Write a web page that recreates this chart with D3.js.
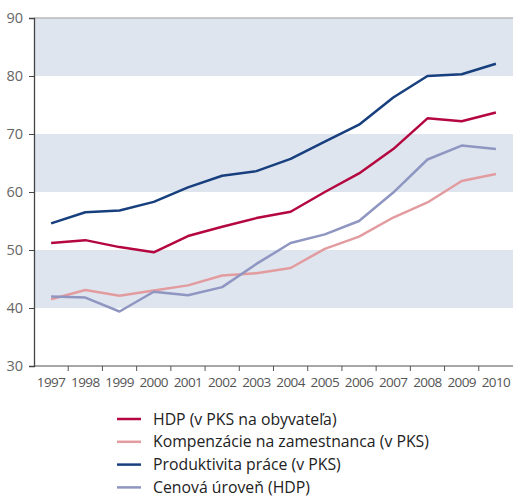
<!DOCTYPE html>
<html>
<head>
<meta charset="utf-8">
<script src="https://cdn.jsdelivr.net/npm/d3@7"></script>
<style>
    body { margin: 0; background: #fff; }
    svg { display: block; }
</style>
</head>
<body>
<svg id="chart" width="513" height="498"></svg>
<script>

// values (index, EU = 100)
const years = ['1997', '1998', '1999', '2000', '2001', '2002', '2003',
    '2004', '2005', '2006', '2007', '2008', '2009', '2010'];

const hdp = [51.2, 51.7, 50.5, 49.6, 52.4, 54.0, 55.5, 56.6, 60.0, 63.2, 67.4, 72.7, 72.2, 73.7];
const kompenzacie = [41.5, 43.1, 42.1, 43.0, 43.9, 45.6, 46.0, 46.9, 50.2, 52.3, 55.6, 58.2, 61.9, 63.1];
const produktivita = [54.6, 56.5, 56.8, 58.3, 60.8, 62.8, 63.6, 65.7, 68.7, 71.6, 76.3, 80.0, 80.3, 82.1];
const cenova = [42.0, 41.8, 39.4, 42.8, 42.2, 43.6, 47.6, 51.2, 52.7, 55.0, 59.9, 65.6, 68.0, 67.4];

const yTicks = [30, 40, 50, 60, 70, 80, 90];
const bands = [[40, 50], [60, 70], [80, 90]];

const series = [
    {name: 'HDP (v PKS na obyvateľa)', values: hdp, color: '#b5073f'},
    {name: 'Kompenzácie na zamestnanca (v PKS)', values: kompenzacie, color: '#e29c9f'},
    {name: 'Produktivita práce (v PKS)', values: produktivita, color: '#173f7e'},
    {name: 'Cenová úroveň (HDP)', values: cenova, color: '#8e96c1'}
];

const margin = {top: 18, left: 34, right: 0},
    plotBottom = 366;

const svg = d3.select('#chart');
const width = +svg.attr('width');

const x = d3.scaleBand()
    .domain(years)
    .range([margin.left, width - margin.right]);

const y = d3.scaleLinear()
    .domain([30, 90])
    .range([plotBottom, margin.top]);

// shaded bands
svg.append('g')
    .selectAll('rect')
    .data(bands)
    .join('rect')
    .attr('x', margin.left)
    .attr('width', width - margin.right - margin.left)
    .attr('y', d => y(d[1]))
    .attr('height', d => y(d[0]) - y(d[1]))
    .attr('fill', '#dfe5ef');

// top frame line
svg.append('line')
    .attr('x1', margin.left)
    .attr('x2', width)
    .attr('y1', y(90))
    .attr('y2', y(90))
    .attr('stroke', '#b8b8b8')
    .attr('stroke-width', 1.5);

// x axis: ticks on band edges, labels in band centres
const xAxis = svg.append('g')
    .attr('transform', `translate(0,${plotBottom})`);

xAxis.append('line')
    .attr('x1', margin.left)
    .attr('x2', width)
    .attr('stroke', '#8a8a8a')
    .attr('stroke-width', 1.5);

xAxis.selectAll('line.tick')
    .data(years.slice(1))
    .join('line')
    .attr('class', 'tick')
    .attr('x1', d => x(d))
    .attr('x2', d => x(d))
    .attr('y1', 0)
    .attr('y2', 5)
    .attr('stroke', '#555');

xAxis.selectAll('text')
    .data(years)
    .join('text')
    .attr('x', d => x(d) + x.bandwidth() / 2)
    .attr('y', 16)
    .attr('dy', '0.35em')
    .attr('text-anchor', 'middle')
    .style('font-family', '"Open Sans", sans-serif')
    .style('font-size', '13.5px')
    .style('letter-spacing', '-0.6px')
    .attr('fill', '#555')
    .text(d => d);

// y axis
svg.append('g')
    .attr('transform', `translate(${margin.left},0)`)
    .call(d3.axisLeft(y).tickValues(yTicks).tickSize(5).tickPadding(6))
    .call(g => g.select('.domain').attr('stroke', '#444').attr('stroke-width', 1.3))
    .call(g => g.selectAll('.tick line').attr('stroke', '#444'))
    .call(g => g.selectAll('.tick text')
        .attr('fill', '#666')
        .style('font-family', '"Open Sans", sans-serif')
        .style('font-size', '14.5px'));

// lines
const line = d3.line()
    .x((d, i) => x(years[i]) + x.bandwidth() / 2)
    .y(d => y(d));

svg.append('g')
    .selectAll('path')
    .data(series)
    .join('path')
    .attr('d', d => line(d.values))
    .attr('fill', 'none')
    .attr('stroke', d => d.color)
    .attr('stroke-width', 2.5)
    .attr('stroke-linejoin', 'round');

// legend
const legend = svg.append('g')
    .attr('transform', 'translate(117,419)')
    .selectAll('g')
    .data(series)
    .join('g')
    .attr('transform', (d, i) => `translate(0,${i * 22.8})`);

legend.append('line')
    .attr('x1', 0)
    .attr('x2', 24)
    .attr('stroke', d => d.color)
    .attr('stroke-width', 2.5);

legend.append('text')
    .attr('x', 36)
    .attr('dy', '0.35em')
    .style('font-family', '"Open Sans", sans-serif')
    .style('font-size', '15.8px')
    .attr('fill', '#222')
    .text(d => d.name);

</script>
</body>
</html>
